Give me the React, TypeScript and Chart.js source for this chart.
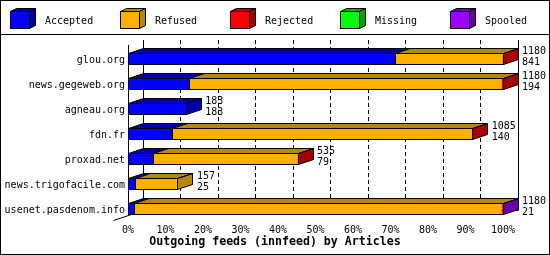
import React, { useEffect, useRef } from 'react';
import { Chart, registerables } from 'chart.js';

Chart.register(...registerables);

const categories = [
  'glou.org',
  'news.gegeweb.org',
  'agneau.org',
  'fdn.fr',
  'proxad.net',
  'news.trigofacile.com',
  'usenet.pasdenom.info',
];
const offered = [1180, 1180, 183, 1085, 535, 157, 1180];
const accepted = [841, 194, 183, 140, 79, 25, 21];
const refused = [337, 981, 0, 943, 454, 132, 1154];
const rejected = [2, 5, 0, 2, 2, 0, 4];
const missing = [0, 0, 0, 0, 0, 0, 0];
const spooled = [0, 0, 0, 0, 0, 0, 1];

const seriesNames = ['Accepted', 'Refused', 'Rejected', 'Missing', 'Spooled'];
const frontColors = ['#0000ff', '#ffb000', '#ff0000', '#00ff00', '#a000ff'];
const shadeColors = ['#0000a8', '#b8860b', '#a80000', '#00a800', '#6a00a8'];
const tickPercents = [0, 10, 20, 30, 40, 50, 60, 70, 80, 90, 100];
const titleText = 'Outgoing feeds (innfeed) by Articles';

const FONT = "'DejaVu Sans Mono', monospace";
const DX = 15;
const DY = 5;
const snap = (v: number) => Math.floor(v) + 0.5;

export default function App() {
  const ref = useRef<HTMLCanvasElement>(null);

  useEffect(() => {
    document.body.style.margin = '0';
    const canvas = ref.current!;
    const maxTotal = Math.max(...offered);
    const series = [accepted, refused, rejected, missing, spooled];
    const n = categories.length;

    const poly = (ctx: CanvasRenderingContext2D, pts: number[][]) => {
      ctx.beginPath();
      ctx.moveTo(pts[0][0], pts[0][1]);
      for (let i = 1; i < pts.length; i++) ctx.lineTo(pts[i][0], pts[i][1]);
      ctx.closePath();
    };

    const plugin = {
      id: 'innreport3d',
      beforeDraw(chart: any) {
        const ctx = chart.ctx;
        ctx.save();
        ctx.fillStyle = '#ffffff';
        ctx.fillRect(0, 0, chart.width, chart.height);
        ctx.restore();
      },
      beforeDatasetsDraw(chart: any) {
        const ctx: CanvasRenderingContext2D = chart.ctx;
        const xs = chart.scales.x;
        const meta0 = chart.getDatasetMeta(0);
        const first = meta0.data[0];
        const last = meta0.data[n - 1];
        const h = first.height;
        const frontTop = first.y - h / 2 - 8;
        const frontBottom = last.y + h / 2;
        const backTop = frontTop - DY;
        const backBottom = frontBottom - DY;
        const left = xs.getPixelForValue(0);
        const right = xs.getPixelForValue(maxTotal);
        ctx.save();
        ctx.strokeStyle = '#000';
        ctx.lineWidth = 1;
        tickPercents.forEach((p, idx) => {
          const x = snap(xs.getPixelForValue((p / 100) * maxTotal) + DX);
          const solid = idx === 0 || idx === tickPercents.length - 1;
          ctx.setLineDash(solid ? [] : [4, 3]);
          ctx.beginPath();
          ctx.moveTo(x, backTop);
          ctx.lineTo(x, backBottom);
          ctx.stroke();
        });
        ctx.setLineDash([]);
        ctx.beginPath();
        ctx.moveTo(snap(left + DX), snap(backBottom));
        ctx.lineTo(snap(right + DX), snap(backBottom));
        ctx.stroke();
        ctx.beginPath();
        ctx.moveTo(left + DX + 0.5, backBottom + 0.5);
        ctx.lineTo(left - DX + 0.5, frontBottom + DY + 0.5);
        ctx.stroke();
        ctx.beginPath();
        ctx.moveTo(snap(left), frontTop);
        ctx.lineTo(snap(left), frontBottom + 1);
        ctx.stroke();
        ctx.restore();
      },
      afterDatasetsDraw(chart: any) {
        const ctx: CanvasRenderingContext2D = chart.ctx;
        ctx.save();
        ctx.lineWidth = 1;
        for (let i = 0; i < n; i++) {
          const segs: { l: number; r: number; d: number }[] = [];
          series.forEach((_, d) => {
            const el = chart.getDatasetMeta(d).data[i];
            const l = Math.min(el.x, el.base);
            const r = Math.max(el.x, el.base);
            if (r - l > 0.01) segs.push({ l, r, d });
          });
          if (!segs.length) continue;
          const el0 = chart.getDatasetMeta(0).data[i];
          const Ty = snap(el0.y - el0.height / 2);
          const By = snap(el0.y + el0.height / 2) - 1;
          const Lx = snap(segs[0].l);
          const Rx = snap(segs[segs.length - 1].r);
          segs.forEach((s) => {
            const a = snap(s.l);
            const b = snap(s.r);
            ctx.fillStyle = shadeColors[s.d];
            poly(ctx, [[a, Ty], [a + DX, Ty - DY], [b + DX, Ty - DY], [b, Ty]]);
            ctx.fill();
          });
          const lastSeg = segs[segs.length - 1];
          ctx.fillStyle = shadeColors[lastSeg.d];
          poly(ctx, [[Rx, Ty], [Rx + DX, Ty - DY], [Rx + DX, By - DY], [Rx, By]]);
          ctx.fill();
          ctx.strokeStyle = '#000';
          ctx.strokeRect(Lx, Ty, Rx - Lx, By - Ty);
          poly(ctx, [[Lx, Ty], [Lx + DX, Ty - DY], [Rx + DX, Ty - DY], [Rx, Ty]]);
          ctx.stroke();
          poly(ctx, [[Rx, Ty], [Rx + DX, Ty - DY], [Rx + DX, By - DY], [Rx, By]]);
          ctx.stroke();
          for (let j = 1; j < segs.length; j++) {
            if (segs[j].r - segs[j].l < 2) continue;
            const bx = snap(segs[j].l);
            ctx.beginPath();
            ctx.moveTo(bx, By);
            ctx.lineTo(bx, Ty);
            ctx.lineTo(bx + DX, Ty - DY);
            ctx.stroke();
          }
          ctx.fillStyle = '#000';
          ctx.font = `10px ${FONT}`;
          ctx.textAlign = 'left';
          ctx.textBaseline = 'alphabetic';
          const tx = segs[segs.length - 1].r + DX + 4;
          ctx.fillText(String(offered[i]), tx, el0.y - 5);
          ctx.fillText(String(accepted[i]), tx, el0.y + 6);
        }
        ctx.restore();
      },
      afterDraw(chart: any) {
        const ctx: CanvasRenderingContext2D = chart.ctx;
        ctx.save();
        ctx.strokeStyle = '#000';
        ctx.lineWidth = 1;
        ctx.strokeRect(0.5, 0.5, chart.width - 1, chart.height - 1);
        ctx.beginPath();
        ctx.moveTo(0, 34.5);
        ctx.lineTo(chart.width, 34.5);
        ctx.stroke();
        ctx.font = `10px ${FONT}`;
        ctx.textAlign = 'left';
        ctx.textBaseline = 'alphabetic';
        seriesNames.forEach((name, k) => {
          const bx = 10.5 + 110 * k;
          const ty = 11.5;
          const w = 19;
          const hh = 17;
          const dx = 6;
          const dy = 3;
          ctx.fillStyle = frontColors[k];
          ctx.fillRect(bx, ty, w, hh);
          ctx.strokeRect(bx, ty, w, hh);
          ctx.fillStyle = shadeColors[k];
          poly(ctx, [[bx, ty], [bx + dx, ty - dy], [bx + w + dx, ty - dy], [bx + w, ty]]);
          ctx.fill();
          ctx.stroke();
          poly(ctx, [[bx + w, ty], [bx + w + dx, ty - dy], [bx + w + dx, ty + hh - dy], [bx + w, ty + hh]]);
          ctx.fill();
          ctx.stroke();
          ctx.fillStyle = '#000';
          ctx.fillText(name, bx - 0.5 + 35, 24);
        });
        ctx.restore();
      },
    };

    const chart = new Chart(canvas, {
      type: 'bar',
      data: {
        labels: categories,
        datasets: series.map((data, k) => ({
          label: seriesNames[k],
          data,
          backgroundColor: frontColors[k],
          borderWidth: 0,
          barThickness: 12,
          inflateAmount: 0,
        })),
      },
      options: {
        indexAxis: 'y',
        responsive: false,
        animation: false,
        devicePixelRatio: 1,
        events: [],
        layout: { padding: { left: 0, right: 0, top: 46.5, bottom: 0 } },
        plugins: {
          legend: { display: false },
          tooltip: { enabled: false },
          title: {
            display: true,
            position: 'bottom',
            text: titleText,
            color: '#000',
            font: { family: FONT, size: 11.6, weight: 'bold', lineHeight: '14px' },
            padding: { top: 0, bottom: 6 },
          },
        },
        scales: {
          x: {
            stacked: true,
            min: 0,
            max: maxTotal,
            position: 'bottom',
            grid: { display: false, drawTicks: false, tickLength: 0 },
            border: { display: false },
            afterBuildTicks: (s: any) => {
              s.ticks = tickPercents.map((p) => ({ value: (p / 100) * maxTotal }));
            },
            afterFit: (s: any) => {
              s.height = 13.5;
            },
            ticks: {
              autoSkip: false,
              maxRotation: 0,
              minRotation: 0,
              padding: 2.5,
              color: '#000',
              font: { family: FONT, size: 10 },
              callback: (_v: any, idx: number) => tickPercents[idx] + '%',
            },
          },
          y: {
            stacked: true,
            grid: { display: false, drawTicks: false, tickLength: 0 },
            border: { display: false },
            afterFit: (s: any) => {
              s.width = 128;
            },
            ticks: {
              padding: 3,
              labelOffset: 1,
              color: '#000',
              font: { family: FONT, size: 10 },
            },
          },
          yRight: {
            type: 'linear',
            position: 'right',
            display: true,
            grid: { display: false, drawTicks: false },
            border: { display: false },
            ticks: { display: false },
            afterFit: (s: any) => {
              s.width = 47;
            },
          },
        },
      } as any,
      plugins: [plugin],
    });

    return () => chart.destroy();
  }, []);

  return (
    <canvas
      ref={ref}
      width={550}
      height={255}
      style={{ display: 'block', width: 550, height: 255 }}
    />
  );
}
